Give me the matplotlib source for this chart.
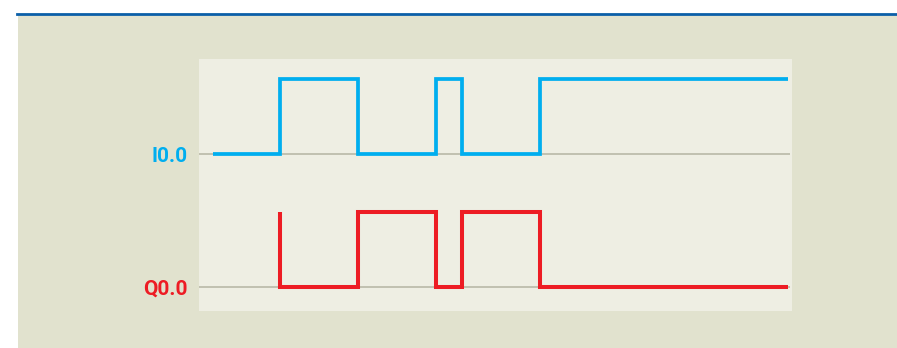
import matplotlib
matplotlib.use("Agg")
import matplotlib.pyplot as plt
from matplotlib.patches import Rectangle
from matplotlib.lines import Line2D

# --- data ---
signal_names = ["I0.0", "Q0.0"]
# time points (in units of one period) and logic levels
i0_times = [-0.86, 0, 1, 2, 2.333, 3.333, 6.51]
i0_levels = [0, 1, 0, 1, 0, 1, 1]
q0_times = [0, 0, 1, 2, 2.333, 3.333, 6.51]
q0_levels = [1, 0, 1, 0, 1, 0, 0]

colors = {"I0.0": "#00AEEF", "Q0.0": "#ED1C24"}
offsets = {"I0.0": 1.773, "Q0.0": 0.0}
q0_first_high = 0.99  # start of the red trace is slightly below high

W, H = 897, 348
fig = plt.figure(figsize=(W / 100, H / 100), dpi=100, facecolor="white")

# background panel and top rule
fig.patches.append(Rectangle((18 / W, 0), 1 - 18 / W, 1 - 15 / H, transform=fig.transFigure,
                             facecolor="#E1E2CE", edgecolor="none", zorder=-2))
fig.lines.append(Line2D([17 / W, 1], [1 - 14 / H, 1 - 14 / H], transform=fig.transFigure,
                        color="#0B5FA8", linewidth=2.0, zorder=-1))

ax = fig.add_axes([199 / W, 1 - 311 / H, 593 / W, 252 / H])
ax.set_zorder(2)
ax.set_facecolor("#EEEEE3")
for s in ax.spines.values():
    s.set_visible(False)

ax.set_xlim(-1.038, 6.564)
ax.set_ylim(-0.32, 3.04)

# baselines
for name in signal_names:
    ax.plot([-1.038, 6.54], [offsets[name]] * 2, color="#B4B4A2", linewidth=1.1, zorder=1,
            solid_capstyle="butt")

def step_xy(times, levels):
    xs, ys = [times[0]], [levels[0]]
    for k in range(1, len(times)):
        xs.append(times[k]); ys.append(levels[k - 1])
        xs.append(times[k]); ys.append(levels[k])
    return xs, ys

xs, ys = step_xy(i0_times, i0_levels)
ax.plot(xs, [y + offsets["I0.0"] for y in ys], color=colors["I0.0"], linewidth=2.7,
        solid_joinstyle="miter", solid_capstyle="butt", zorder=3)

xs, ys = step_xy(q0_times, q0_levels)
ys[0] = q0_first_high
ax.plot(xs, [y + offsets["Q0.0"] for y in ys], color=colors["Q0.0"], linewidth=2.9,
        solid_joinstyle="miter", solid_capstyle="butt", zorder=3)

ax.set_xticks([])
ax.set_yticks([offsets[n] for n in signal_names])
ax.set_yticklabels(signal_names)
ax.tick_params(axis="y", length=0, pad=8)
for lbl, name in zip(ax.get_yticklabels(), signal_names):
    lbl.set_color(colors[name])
    lbl.set_fontweight("bold")
    lbl.set_fontsize(15)
    lbl.set_family(["Liberation Sans Narrow", "Roboto", "DejaVu Sans"])

fig.savefig("out.png", dpi=100, facecolor="white")
